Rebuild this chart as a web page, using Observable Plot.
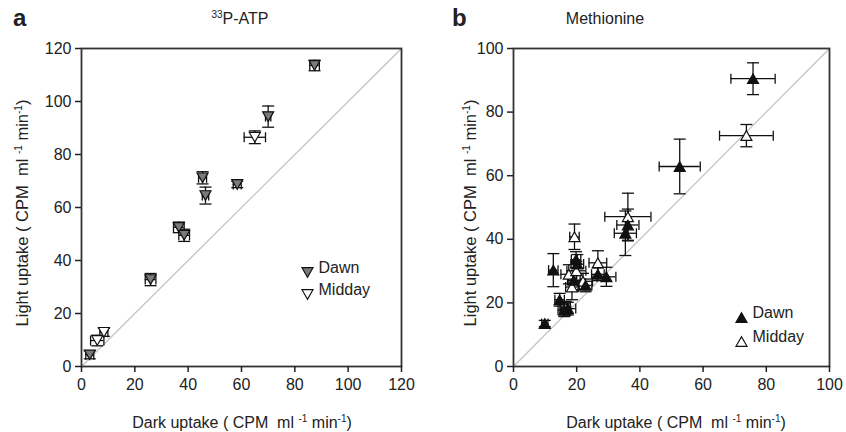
<!DOCTYPE html>
<html><head><meta charset="utf-8">
<script src="https://cdn.jsdelivr.net/npm/d3@7"></script>
<script src="https://cdn.jsdelivr.net/npm/@observablehq/plot@0.6"></script>
<style>
body{margin:0;background:#fff;}
#wrap{position:relative;width:846px;height:432px;font-family:"Liberation Sans",Arial,sans-serif;color:#222;overflow:hidden;}
.pan{position:absolute;top:0;}
.lbl{position:absolute;font-size:16px;white-space:nowrap;transform:translate(-50%,-50%);}
.rot{transform:translate(-50%,-50%) rotate(-90deg);font-size:16.5px;}
.letter{position:absolute;font-size:24px;font-weight:bold;transform:translate(0,-50%);}
sup{font-size:10px;vertical-align:6px;line-height:0;}
</style></head><body>
<div id="wrap">
  <div class="letter" style="left:13px;top:18px">a</div>
  <div class="lbl" style="left:240px;top:19px"><sup>33</sup>P-ATP</div>
  <div class="letter" style="left:452px;top:18px">b</div>
  <div class="lbl" style="left:605px;top:19px">Methionine</div>
  <div class="lbl rot" style="left:22px;top:213px">Light uptake ( CPM&nbsp; ml <sup>-1</sup> min<sup>-1</sup>)</div>
  <div class="lbl rot" style="left:470px;top:213px">Light uptake ( CPM&nbsp; ml <sup>-1</sup> min<sup>-1</sup>)</div>
  <div class="lbl" style="left:242px;top:423px">Dark uptake ( CPM&nbsp; ml <sup>-1</sup> min<sup>-1</sup>)</div>
  <div class="lbl" style="left:676px;top:423px">Dark uptake ( CPM&nbsp; ml <sup>-1</sup> min<sup>-1</sup>)</div>
  <div id="pa" class="pan" style="left:0"></div>
  <div id="pb" class="pan" style="left:423px"></div>
</div>
<script>
// ---- Panel a: 33P-ATP ----
const atpTicks = [0, 20, 40, 60, 80, 100, 120];
const atpDawnX    = [3.1, 25.9, 36.5, 38.5, 45.4, 46.5, 58.4, 70.0, 87.4];
const atpDawnY    = [4.4, 32.8, 52.5, 49.5, 71.2, 64.5, 68.7, 94.3, 113.6];
const atpDawnXErr = [1.5, 2.0, 2.0, 2.0, 1.5, 1.2, 1.5, 1.0, 1.8];
const atpDawnYErr = [1.5, 2.3, 2.0, 2.3, 2.3, 3.2, 1.2, 4.0, 2.0];
const atpMidX     = [5.9, 8.4, 65.0];
const atpMidY     = [9.8, 12.9, 86.5];
const atpMidXErr  = [2.5, 1.5, 4.0];
const atpMidYErr  = [2.0, 1.5, 2.4];

// ---- Panel b: Methionine ----
const metTicks = [0, 20, 40, 60, 80, 100];
const metDawnX    = [75.8, 52.6, 36.2, 35.4, 19.8, 20.2, 12.6, 26.7, 29.4, 19.1, 22.8, 14.6, 17.2, 16.1, 9.9];
const metDawnY    = [90.5, 62.9, 44.5, 41.9, 33.6, 32.2, 30.3, 29.0, 28.2, 27.1, 25.5, 21.0, 18.2, 17.7, 13.5];
const metDawnXErr = [7.0, 6.5, 3.5, 3.5, 1.5, 2.0, 1.5, 2.0, 3.0, 2.0, 2.0, 1.5, 2.5, 2.0, 1.0];
const metDawnYErr = [5.0, 8.6, 5.0, 7.0, 2.5, 3.0, 5.2, 2.0, 3.0, 3.0, 2.0, 2.0, 2.0, 2.0, 1.0];
const metMidX     = [73.7, 36.2, 19.3, 26.7, 17.5, 19.9, 22.0, 18.5, 16.5];
const metMidY     = [72.6, 47.1, 40.8, 32.6, 29.0, 30.1, 26.8, 25.0, 18.5];
const metMidXErr  = [8.5, 7.3, 1.5, 2.8, 2.5, 3.0, 3.0, 2.0, 1.5];
const metMidYErr  = [3.5, 7.4, 4.0, 3.8, 3.0, 3.0, 2.5, 4.0, 2.0];

const legendLabels = ["Dawn", "Midday"];

function rows(X, Y, XE, YE) {
  return X.map((x, i) => ({x, y: Y[i], xe: XE[i], ye: YE[i]}));
}

const rad = s => Math.sqrt(s / Math.PI);
const triDown = {draw(c, s){ const r = rad(s), h = r * 1.75; c.moveTo(-r, -h/2); c.lineTo(r, -h/2); c.lineTo(0, h/2); c.closePath(); }};
const triUp   = {draw(c, s){ const r = rad(s), h = r * 1.75; c.moveTo(-r, h/2); c.lineTo(r, h/2); c.lineTo(0, -h/2); c.closePath(); }};
const capH = {draw(c, s){ const r = rad(s); c.moveTo(-r, 0); c.lineTo(r, 0); }};
const capV = {draw(c, s){ const r = rad(s); c.moveTo(0, -r); c.lineTo(0, r); }};

function errMarks(data) {
  const st = {stroke: "#111", strokeWidth: 1.3};
  return [
    Plot.ruleX(data, {x: "x", y1: d => d.y - d.ye, y2: d => d.y + d.ye, ...st}),
    Plot.ruleY(data, {y: "y", x1: d => d.x - d.xe, x2: d => d.x + d.xe, ...st}),
    Plot.dot(data, {x: "x", y: d => d.y + d.ye, r: 6, symbol: capH, fill: "none", ...st}),
    Plot.dot(data, {x: "x", y: d => d.y - d.ye, r: 6, symbol: capH, fill: "none", ...st}),
    Plot.dot(data, {x: d => d.x + d.xe, y: "y", r: 5, symbol: capV, fill: "none", ...st}),
    Plot.dot(data, {x: d => d.x - d.xe, y: "y", r: 5, symbol: capV, fill: "none", ...st})
  ];
}

function panel({ticks, dawn, mid, sym, dawnFill, ml, mr, legX, legY0, legY1}) {
  const dom = [ticks[0], ticks[ticks.length - 1]];
  return Plot.plot({
    width: 423, height: 432,
    marginLeft: ml, marginRight: mr, marginTop: 48, marginBottom: 66,
    style: {fontFamily: "'Liberation Sans', Arial, sans-serif", color: "#222", background: "transparent", overflow: "visible"},
    x: {domain: dom},
    y: {domain: dom},
    marks: [
      Plot.link([dom], {x1: d => d[0], y1: d => d[0], x2: d => d[1], y2: d => d[1], stroke: "#c4c4c4", strokeWidth: 1.3}),
      ...errMarks(mid),
      ...errMarks(dawn),
      Plot.dot(mid,  {x: "x", y: "y", r: 5.5, symbol: sym, fill: "white", stroke: "#111", strokeWidth: 1.2}),
      Plot.dot(dawn, {x: "x", y: "y", r: 5.5, symbol: sym, fill: dawnFill, stroke: "#111", strokeWidth: 1.2}),
      Plot.frame({stroke: "#333", strokeWidth: 1.8}),
      Plot.axisX({ticks, tickSize: 6, tickPadding: 6, fontSize: 16, label: null, strokeWidth: 1.5}),
      Plot.axisY({ticks, tickSize: 6, tickPadding: 4, fontSize: 16, label: null, strokeWidth: 1.5}),
      // legend
      Plot.dot([legendLabels[0]], {frameAnchor: "bottom-right", dx: legX, dy: -legY0, r: 5.5, symbol: sym, fill: dawnFill, stroke: "#111", strokeWidth: 1.2}),
      Plot.dot([legendLabels[1]], {frameAnchor: "bottom-right", dx: legX, dy: -legY1, r: 5.5, symbol: sym, fill: "white", stroke: "#111", strokeWidth: 1.2}),
      Plot.text([legendLabels[0]], {frameAnchor: "bottom-right", text: d => d, dx: legX + 11, dy: -legY0, textAnchor: "start", fontSize: 16, fill: "#222"}),
      Plot.text([legendLabels[1]], {frameAnchor: "bottom-right", text: d => d, dx: legX + 11, dy: -legY1, textAnchor: "start", fontSize: 16, fill: "#222"})
    ]
  });
}
document.getElementById("pa").append(panel({
  ticks: atpTicks,
  dawn: rows(atpDawnX, atpDawnY, atpDawnXErr, atpDawnYErr),
  mid: rows(atpMidX, atpMidY, atpMidXErr, atpMidYErr),
  sym: triDown, dawnFill: "#7a7a7a", ml: 81, mr: 22, legX: -94, legY0: 94, legY1: 72
}));
document.getElementById("pb").append(panel({
  ticks: metTicks,
  dawn: rows(metDawnX, metDawnY, metDawnXErr, metDawnYErr),
  mid: rows(metMidX, metMidY, metMidXErr, metMidYErr),
  sym: triUp, dawnFill: "#111", ml: 90, mr: 17, legX: -88, legY0: 49, legY1: 25
}));
</script>
</body></html>
